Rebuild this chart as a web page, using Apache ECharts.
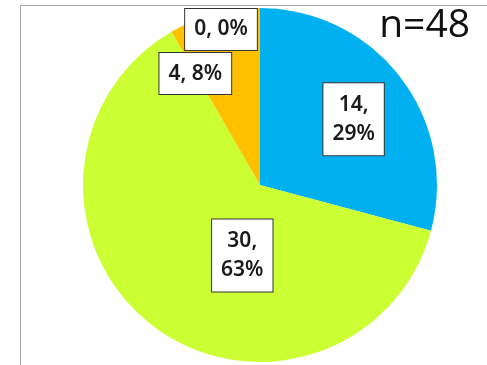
<!DOCTYPE html>
<html lang="en">
  <head>
    <meta charset="UTF-8" />
    <title>Pie n=48</title>
    <style>
      html, body { margin: 0; padding: 0; background: #fff; }
      #main { width: 487px; height: 365px; }
    </style>
  </head>
  <body>
    <script src="https://cdn.jsdelivr.net/npm/echarts@6/dist/echarts.min.js"></script>
    <div id="main"></div>
    <script>
      const categories = ['A', 'B', 'C', 'D']
      const values = [14, 30, 4, 0]
      const colors = ['#00B0F0', '#CCFF33', '#FFC000', '#FFC000']
      // labels were dragged around in the original, so nudge them
      const labelOffsets = [[21, -10], [38, -2], [-41, -23], [-39, -64]]
      const twoLine = [true, true, false, false]

      const chart = echarts.init(document.getElementById('main'))
      chart.setOption({
        animation: false,
        title: {
          text: 'n=48',
          right: 12,
          top: 1,
          textStyle: { fontFamily: 'Open Sans', fontSize: 39, fontWeight: 'normal', color: '#111' }
        },
        graphic: [
          { type: 'line', shape: { x1: 20, y1: 5.5, x2: 487, y2: 5.5 }, style: { stroke: '#a6a6a6', lineWidth: 1 } },
          { type: 'line', shape: { x1: 20.5, y1: 5, x2: 20.5, y2: 365 }, style: { stroke: '#a6a6a6', lineWidth: 1 } }
        ],
        series: [
          {
            type: 'pie',
            center: [260, 185],
            radius: 177,
            startAngle: 90,
            clockwise: true,
            avoidLabelOverlap: false,
            label: {
              position: 'inside',
              fontFamily: 'Noto Sans',
              fontSize: 21,
              fontWeight: 600,
              color: '#1a1a1a',
              backgroundColor: '#fff',
              borderColor: '#333',
              borderWidth: 1,
              lineHeight: 29,
              padding: [6, 8]
            },
            labelLine: { show: false },
            emphasis: { disabled: true },
            data: categories.map((name, i) => ({
              name,
              value: values[i],
              itemStyle: { color: colors[i] },
              label: {
                offset: labelOffsets[i],
                formatter: p => {
                  const pct = Math.round(p.percent)
                  return twoLine[i] ? p.value + ',\n' + pct + '%' : p.value + ', ' + pct + '%'
                },
                padding: twoLine[i] ? [7, 9] : [6, 9]
              }
            }))
          }
        ]
      })
    </script>
  </body>
</html>
